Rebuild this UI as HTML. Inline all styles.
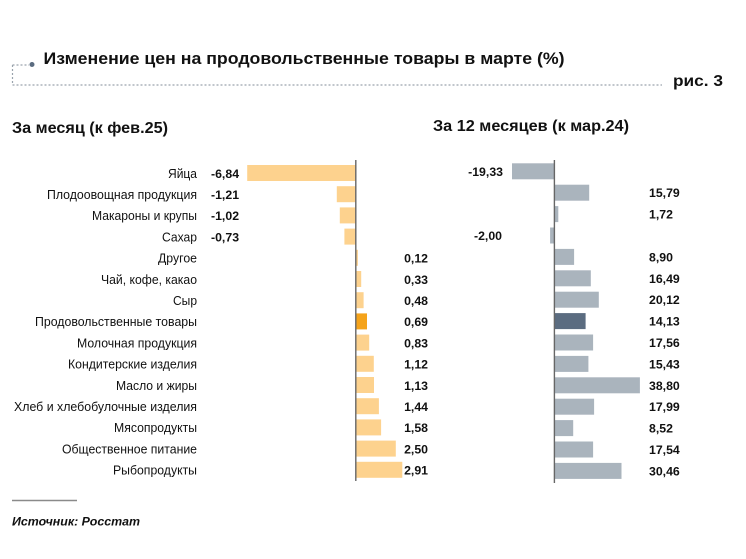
<!DOCTYPE html>
<html><head><meta charset="utf-8"><style>
html,body{margin:0;padding:0;background:#fff;}
svg{display:block;}
text{font-family:"Liberation Sans",Arial,sans-serif;fill:#111;}
.c{font-size:12.5px;text-anchor:end;}
.v{font-size:12.3px;font-weight:bold;}
</style></head><body>
<svg width="746" height="559" viewBox="0 0 746 559" xmlns="http://www.w3.org/2000/svg">
<!-- header -->
<path d="M12.5 65 H29 M12.5 65 V85 M12.5 85 H662" stroke="#9aa3ad" stroke-width="1.2" stroke-dasharray="2 2" fill="none"/>
<circle cx="32" cy="64.5" r="2.5" fill="#5b6c80"/>
<text x="43.5" y="64" font-size="17" font-weight="bold" textLength="521" lengthAdjust="spacingAndGlyphs">Изменение цен на продовольственные товары в марте (%)</text>
<text x="673" y="86" font-size="16" font-weight="bold" textLength="50" lengthAdjust="spacingAndGlyphs">рис. 3</text>
<text x="12" y="133" font-size="15.5" font-weight="bold" textLength="156" lengthAdjust="spacingAndGlyphs">За месяц (к фев.25)</text>
<text x="433" y="131" font-size="15.5" font-weight="bold" textLength="196" lengthAdjust="spacingAndGlyphs">За 12 месяцев (к мар.24)</text>

<!-- category labels -->
<text class="c" x="197" y="177.8" textLength="29" lengthAdjust="spacingAndGlyphs">Яйца</text>
<text class="c" x="197" y="199" textLength="150" lengthAdjust="spacingAndGlyphs">Плодоовощная продукция</text>
<text class="c" x="197" y="220.2" textLength="105" lengthAdjust="spacingAndGlyphs">Макароны и крупы</text>
<text class="c" x="197" y="241.4" textLength="35" lengthAdjust="spacingAndGlyphs">Сахар</text>
<text class="c" x="197" y="262.6" textLength="39" lengthAdjust="spacingAndGlyphs">Другое</text>
<text class="c" x="197" y="283.8" textLength="96" lengthAdjust="spacingAndGlyphs">Чай, кофе, какао</text>
<text class="c" x="197" y="305" textLength="24" lengthAdjust="spacingAndGlyphs">Сыр</text>
<text class="c" x="197" y="326.2" textLength="162" lengthAdjust="spacingAndGlyphs">Продовольственные товары</text>
<text class="c" x="197" y="347.4" textLength="120" lengthAdjust="spacingAndGlyphs">Молочная продукция</text>
<text class="c" x="197" y="368.6" textLength="129" lengthAdjust="spacingAndGlyphs">Кондитерские изделия</text>
<text class="c" x="197" y="389.8" textLength="81" lengthAdjust="spacingAndGlyphs">Масло и жиры</text>
<text class="c" x="197" y="411" textLength="183" lengthAdjust="spacingAndGlyphs">Хлеб и хлебобулочные изделия</text>
<text class="c" x="197" y="432.2" textLength="83" lengthAdjust="spacingAndGlyphs">Мясопродукты</text>
<text class="c" x="197" y="453.4" textLength="135" lengthAdjust="spacingAndGlyphs">Общественное питание</text>
<text class="c" x="197" y="474.6" textLength="84" lengthAdjust="spacingAndGlyphs">Рыбопродукты</text>

<!-- left bars -->
<g fill="#fdd28e">
<rect x="247.2" y="165" width="108.8" height="16"/>
<rect x="336.8" y="186.2" width="19.2" height="16"/>
<rect x="339.8" y="207.4" width="16.2" height="16"/>
<rect x="344.4" y="228.6" width="11.6" height="16"/>
<rect x="356" y="249.8" width="1.9" height="16"/>
<rect x="356" y="271" width="5.2" height="16"/>
<rect x="356" y="292.2" width="7.6" height="16"/>
<rect x="356" y="313.4" width="11" height="16" fill="#f5a31a"/>
<rect x="356" y="334.6" width="13.2" height="16"/>
<rect x="356" y="355.8" width="17.8" height="16"/>
<rect x="356" y="377" width="18" height="16"/>
<rect x="356" y="398.2" width="22.9" height="16"/>
<rect x="356" y="419.4" width="25.1" height="16"/>
<rect x="356" y="440.6" width="39.8" height="16"/>
<rect x="356" y="461.8" width="46.3" height="16"/>
</g>
<line x1="355.8" y1="160" x2="355.8" y2="481" stroke="#666" stroke-width="1.4"/>

<!-- left values -->
<text class="v" x="211" y="177.8">-6,84</text>
<text class="v" x="211" y="199">-1,21</text>
<text class="v" x="211" y="220.2">-1,02</text>
<text class="v" x="211" y="241.4">-0,73</text>
<g text-anchor="end">
<text class="v" x="428" y="262.6">0,12</text>
<text class="v" x="428" y="283.8">0,33</text>
<text class="v" x="428" y="305">0,48</text>
<text class="v" x="428" y="326.2">0,69</text>
<text class="v" x="428" y="347.4">0,83</text>
<text class="v" x="428" y="368.6">1,12</text>
<text class="v" x="428" y="389.8">1,13</text>
<text class="v" x="428" y="411">1,44</text>
<text class="v" x="428" y="432.2">1,58</text>
<text class="v" x="428" y="453.4">2,50</text>
<text class="v" x="428" y="474.6">2,91</text>
</g>

<!-- right bars -->
<g fill="#aab4bd">
<rect x="512" y="163.3" width="42.5" height="16"/>
<rect x="554.5" y="184.7" width="34.7" height="16"/>
<rect x="554.5" y="206.1" width="3.8" height="16"/>
<rect x="550.1" y="227.5" width="4.4" height="16"/>
<rect x="554.5" y="248.9" width="19.6" height="16"/>
<rect x="554.5" y="270.3" width="36.3" height="16"/>
<rect x="554.5" y="291.7" width="44.3" height="16"/>
<rect x="554.5" y="313.1" width="31.1" height="16" fill="#5b6c80"/>
<rect x="554.5" y="334.5" width="38.6" height="16"/>
<rect x="554.5" y="355.9" width="33.9" height="16"/>
<rect x="554.5" y="377.3" width="85.4" height="16"/>
<rect x="554.5" y="398.7" width="39.6" height="16"/>
<rect x="554.5" y="420.1" width="18.7" height="16"/>
<rect x="554.5" y="441.5" width="38.6" height="16"/>
<rect x="554.5" y="462.9" width="67" height="16"/>
</g>
<line x1="554.4" y1="160" x2="554.4" y2="483" stroke="#666" stroke-width="1.4"/>

<!-- right values -->
<g text-anchor="end">
<text class="v" x="503" y="175.8">-19,33</text>
<text class="v" x="502" y="240">-2,00</text>
</g>
<text class="v" x="649" y="197.2">15,79</text>
<text class="v" x="649" y="218.6">1,72</text>
<text class="v" x="649" y="261.4">8,90</text>
<text class="v" x="649" y="282.8">16,49</text>
<text class="v" x="649" y="304.2">20,12</text>
<text class="v" x="649" y="325.6">14,13</text>
<text class="v" x="649" y="347">17,56</text>
<text class="v" x="649" y="368.4">15,43</text>
<text class="v" x="649" y="389.8">38,80</text>
<text class="v" x="649" y="411.2">17,99</text>
<text class="v" x="649" y="432.6">8,52</text>
<text class="v" x="649" y="454">17,54</text>
<text class="v" x="649" y="475.4">30,46</text>

<!-- footer -->
<line x1="12" y1="500.5" x2="77" y2="500.5" stroke="#8a8a8a" stroke-width="1.6"/>
<text x="12" y="525.5" font-size="12" font-weight="bold" font-style="italic" textLength="128" lengthAdjust="spacingAndGlyphs">Источник: Росстат</text>
</svg>
</body></html>
